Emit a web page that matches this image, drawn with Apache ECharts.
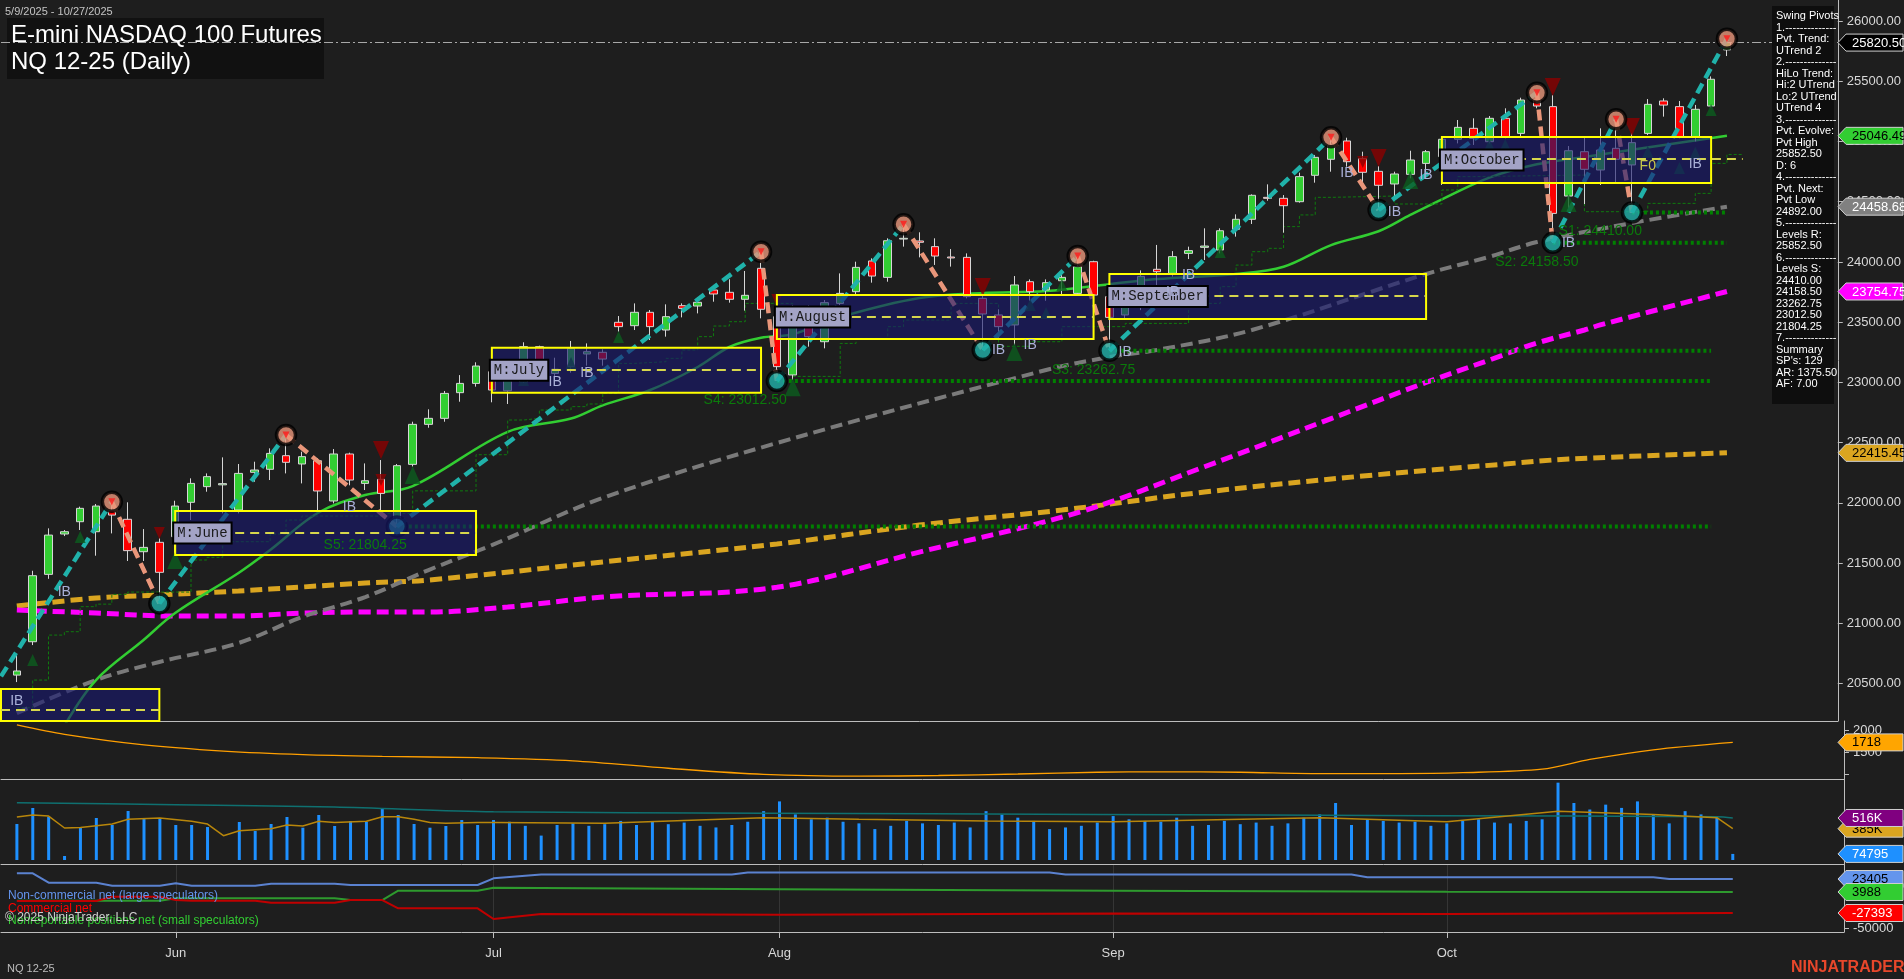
<!DOCTYPE html>
<html>
<head>
<meta charset="utf-8">
<title>E-mini NASDAQ 100 Futures NQ 12-25 (Daily)</title>
<script src="https://cdn.jsdelivr.net/npm/echarts@6.0.0/dist/echarts.min.js"></script>
<style>
html,body{margin:0;padding:0;background:#1e1e1e;overflow:hidden;}
#chart{width:1904px;height:979px;}
</style>
</head>
<body>
<div id="chart"></div>
<script>
// ---------------- trading days (categories) ----------------
const mayDays = [15,16,19,20,21,22,23,27,28,29,30];
const junDays = [2,3,4,5,6,9,10,11,12,13,16,17,18,20,23,24,25,26,27,30];
const julDays = [1,2,3,7,8,9,10,11,18,21,22,23,24,25,28,29,30,31];
const augDays = [1,4,5,6,7,8,11,12,13,14,15,18,19,20,21,22,25,26,27,28,29];
const sepDays = [2,3,4,5,8,9,10,11,12,15,16,17,18,19,22,23,24,25,26,29,30];
const octDays = [1,2,3,6,7,8,9,10,13,14,15,16,17,20,21,22,23,24,27,28,29,30,31];
const novDays = [3,4,5];
const monthLabels = {6:'Jun',7:'Jul',8:'Aug',9:'Sep',10:'Oct'};

// ---------------- daily candles: open, high, low, close (from 5/16) ----------------
const candleFirstDay = '5/16';
const ohlc = [
[20571,20746,20513,20605],[20848,21437,20820,21396],[21407,21789,21370,21733],[21742,21775,21725,21761],
[21844,21969,21775,21955],[21761,21991,21562,21974],[21935,22010,21747,21899],[21864,22005,21518,21604],
[21595,21783,21518,21631],[21673,21706,21166,21424],[21720,22018,21581,21974],[22005,22204,21858,22162],
[22135,22245,22093,22218],[22150,22378,21913,22160],[21941,22323,21913,22245],[22254,22342,22176,22273],
[22279,22453,22190,22411],[22392,22564,22245,22337],[22323,22425,22162,22384],[22350,22370,21927,22099],
[22016,22447,21996,22406],[22406,22417,22146,22190],[22162,22328,22107,22184],[22196,22356,21899,22079],
[21872,22323,21804.25,22309],[22320,22674,22301,22652],[22652,22777,22624,22702],[22702,22929,22674,22909],
[22915,23061,22840,22992],[22992,23167,22965,23136],[23089,23117,22835,22937],[22931,23117,22821,23103],
[23006,23333,22998,23297],[23297,23305,23048,23131],[23075,23205,23048,23109],[23131,23344,23081,23283],
[23236,23324,23139,23255],[23250,23275,23139,23194],[23499,23551,23421,23463],[23471,23656,23435,23582],
[23582,23601,23352,23463],[23435,23648,23380,23546],[23637,23656,23540,23615],[23634,23706,23573,23665],
[23767,23809,23670,23734],[23748,23856,23662,23690],[23690,23925,23596,23723],[23947,24085,23532,23607],
[23546,23712,23012.5,23131],[23062,23642,23020,23543],[23601,23642,23297,23380],[23338,23684,23283,23662],
[23656,23905,23642,23739],[23753,24002,23725,23955],[24008,24030,23828,23883],[23872,24196,23836,24176],
[24190,24312,24127,24196],[24174,24246,24038,24163],[24127,24196,23975,24049],[24041,24107,23961,24033],
[24038,24071,23698,23712],[23698,23739,23269,23568],[23560,23607,23352,23463],[23477,23883,23311,23809],
[23836,23855,23678,23753],[23767,23855,23678,23828],[23844,23891,23725,23872],[23739,24049,23734,23961],
[24002,24010,23700,23725],[23712,23720,23262.75,23540],[23560,23770,23530,23720],[23640,23930,23600,23880],
[23939,24141,23712,23919],[23905,24090,23878,24044],[24071,24127,24024,24094],[24121,24279,24016,24132],
[24099,24279,24071,24259],[24271,24395,24210,24354],[24354,24561,24315,24553],[24536,24644,24508,24528],
[24528,24555,24243,24467],[24500,24741,24492,24708],[24719,24888,24658,24868],[24852,25034,24749,24971],
[25004,25031,24791,24832],[24857,24915,24652,24744],[24752,24796,24431,24636],[24647,24749,24514,24730],
[24727,24923,24694,24846],[24818,24929,24722,24915],[24874,25040,24639,25018],[25018,25178,24984,25117],
[25109,25192,24971,25026],[24998,25211,24984,25192],[25192,25275,25026,25040],[25067,25363,25040,25344],
[25344,25405,25275,25294],[25289,25385,24158.5,24403],[24547,24962,24445,24923],[24915,25040,24480,24769],
[24763,25109,24639,24929],[24943,25184,24652,24852],[24805,25067,24410,24990],[25067,25352,25053,25308],
[25336,25358,25206,25302],[25289,25336,25026,25040],[25034,25303,25000,25267],[25294,25540,25283,25516],
[25760,25852.5,25709,25820.5]
];
const volume = [
442000,639000,532000,49000,405000,516000,430000,602000,516000,516000,430000,430000,405000,0,467000,356000,
442000,528000,397000,553000,418000,479000,470000,639000,553000,442000,397000,418000,491000,430000,491000,
470000,420000,300000,430000,450000,420000,440000,480000,430000,470000,440000,460000,420000,400000,430000,
470000,600000,720000,560000,500000,520000,470000,450000,380000,420000,480000,450000,430000,460000,400000,
600000,560000,520000,480000,380000,400000,420000,460000,540000,500000,480000,470000,520000,420000,430000,
480000,440000,460000,420000,450000,520000,560000,700000,430000,500000,480000,460000,470000,420000,450000,
480000,500000,460000,450000,480000,500000,950000,700000,620000,680000,640000,720000,560000,450000,600000,
560000,520000,74795
];

// ---------------- indicator lines [day, value] ----------------
const smaGreen = [['5/21',20150],['5/23',20530],['5/29',20862],['6/2',21086],['6/6',21418],['6/10',21609],['6/13',21916],['6/18',22066],['6/24',22140],['7/2',22590],['7/9',22700],['7/11',22810],['7/22',22937],['7/25',23128],['7/29',23294],['7/31',23370],['8/4',23400],['8/7',23543],['8/14',23701],['8/20',23742],['8/26',23758],['9/2',23815],['9/5',23858],['9/12',23900],['9/17',23960],['9/22',24140],['9/25',24255],['9/29',24390],['10/1',24520],['10/6',24700],['10/9',24810],['10/14',24871],['10/22',24990],['10/27',25046.49]];
const smaGray = [['5/16',20256],['5/23',20530],['5/30',20680],['6/6',20837],['6/12',21053],['6/18',21219],['6/25',21443],['7/1',21650],['7/11',22041],['8/1',22497],['8/26',23103],['9/2',23211],['9/5',23269],['9/15',23435],['9/30',23900],['10/6',24043],['10/9',24165],['10/17',24323],['10/27',24458.68]];
const smaMagenta = [['5/16',21111],['5/23',21086],['6/2',21061],['6/6',21061],['6/12',21086],['6/18',21094],['6/25',21094],['7/2',21136],['7/11',21219],['8/1',21300],['8/14',21592],['8/28',21920],['9/10',22300],['9/22',22700],['9/30',23000],['10/6',23186],['10/9',23327],['10/14',23435],['10/15',23477],['10/27',23754.75]];
const smaGold = [['5/16',21144],['5/23',21211],['5/30',21236],['6/6',21269],['6/12',21302],['6/18',21335],['6/25',21360],['7/11',21510],['8/1',21659],['8/14',21816],['8/27',21941],['9/10',22090],['9/24',22223],['10/7',22323],['10/13',22364],['10/27',22415.45]];
const trailStop = [['5/16',20300],['5/19',20530],['5/20',20903],['5/21',20931],['5/22',21139],['5/23',21160],['5/27',21241],['5/28',21260],['6/3',21526],['6/4',21548],['6/5',21678],['6/10',21742],['6/11',21858],['6/12',21891],['6/20',21913],['6/24',22100],['6/30',22400],['7/2',22688],['7/3',22702],['7/7',22771],['7/9',22799],['7/10',22821],['7/11',22909],['7/18',23158],['7/21',23172],['7/23',23200],['7/24',23269],['7/25',23380],['7/28',23468],['7/29',23504],['7/30',23656],['8/4',23050],['8/7',23324],['8/8',23366],['8/12',23463],['8/13',23518],['8/18',23656],['8/21',23300],['8/25',23338],['8/27',23463],['9/3',23490],['9/9',23656],['9/11',23795],['9/12',23974],['9/15',24085],['9/16',24113],['9/17',24293],['9/18',24390],['9/19',24536],['9/22',24547],['9/26',24481],['10/1',24597],['10/2',24708],['10/3',24721],['10/14',24417],['10/20',24486],['10/23',24569],['10/24',24818],['10/27',24892],['10/28',24892]];

// ---------------- swing pivots ----------------
const pivotDays   = ['5/15','5/27','5/30','6/11','6/23','7/31','8/1','8/13','8/20','8/28','9/2','9/22','9/25','10/9','10/10','10/16','10/17','10/27'];
const pivotPrices = [20560,22010,21166,22564,21804.25,24085,23012.5,24312,23269,24049,23262.75,25034,24431,25405,24158.5,25184,24410,25852.5];

// support levels
const sNames  = ['S1','S2','S3','S4','S5'];
const sValues = [24410.00,24158.50,23262.75,23012.50,21804.25];
const sStart  = ['10/17','10/10','9/2','8/1','6/23'];
const sEnd    = ['10/27','10/27','10/24','10/24','10/24'];
const sLabelDay = ['10/15','10/9','8/29','7/30','6/18'];

// monthly IB boxes
const boxNames  = ['','M:June','M:July','M:August','M:September','M:October'];
const boxStart  = ['5/15','6/2','7/1','8/1','9/2','10/1'];
const boxEnd    = ['5/30','6/30','7/31','8/29','9/30','10/24'];
const boxTop    = [20455,21933,23288,23726,23900,25037];
const boxBottom = [20190,21568,22915,23360,23526,24655];
const boxMid    = [20281,21753,23103,23546,23717,24854];
const boxMidEnd = ['5/30','6/30','7/31','8/29','9/30','10/28'];

// markers
const upTriDays = ['5/19','5/22','6/2','6/24','7/3','7/9','7/18','8/4','8/22','8/25','8/26','8/27','9/11','9/29','10/6','10/7','10/13','10/20','10/22','10/23','10/24'];
const upTriVals = [20696,21717,21526,22232,23020,23161,23377,22960,23253,23643,23576,23808,24082,24680,24971,24971,24489,24915,24779,24907,25261];
const upTriBig  = [0,0,1,1,0,0,0,1,1,0,0,0,0,1,0,0,1,0,0,0,0];
const dnTriDays = ['5/30','6/20','6/20','8/1','8/20','9/24','9/25','10/10','10/17'];
const dnTriVals = [21750,22439,22190,23684,23792,24829,24863,25452,25120];
const dnTriBig  = [0,1,0,0,1,0,1,1,1];
const ibDays = ['5/16','5/21','6/17','7/8','7/10','8/21','8/25','9/3','9/8','9/9','9/23','9/26','9/30','10/13','10/23'];
const ibVals = [20356,21260,21966,23003,23078,23269,23310,23252,23753,23892,24738,24414,24722,24157,24813];

// ---------------- lower panels ----------------
const rangeLine = [['5/16',2114],['5/21',1900],['5/29',1660],['6/5',1520],['6/12',1440],['6/20',1400],['6/30',1370],['7/9',1300],['7/23',1130],['7/31',990],['8/8',950],['8/15',965],['8/22',1000],['8/29',1040],['9/5',1050],['9/12',1040],['9/19',1010],['9/26',1010],['10/2',1030],['10/9',1110],['10/14',1330],['10/20',1550],['10/27',1718]];
const volAvg = [['5/16',528000],['5/19',553000],['5/20',540000],['5/21',393000],['5/22',400000],['5/27',442000],['5/28',500000],['5/30',516000],['6/3',475000],['6/4',442000],['6/5',299000],['6/6',360000],['6/10',385000],['6/11',430000],['6/12',418000],['6/13',475000],['6/16',460000],['6/18',475000],['6/20',532000],['6/23',532000],['6/24',500000],['6/25',460000],['6/26',450000],['6/30',460000],['7/1',460000],['7/11',450000],['7/31',520000],['8/8',500000],['8/20',480000],['9/2',470000],['9/19',520000],['10/1',470000],['10/10',600000],['10/20',560000],['10/24',520000],['10/27',385000]];
const openInt = [['5/16',704000],['6/2',680000],['6/16',651000],['7/1',593000],['7/31',575000],['8/29',560000],['9/30',545000],['10/24',530000],['10/27',516000]];
const cotLarge = [['5/16',31900],['5/19',31900],['5/20',17900],['5/23',17900],['5/27',13400],['5/30',13400],['6/2',17000],['6/3',13400],['6/9',13400],['6/10',16400],['6/16',16400],['6/17',14400],['6/30',14400],['7/1',24400],['7/7',30000],['7/29',30000],['7/30',33000],['8/26',33000],['8/27',30000],['9/23',30000],['9/24',26000],['10/20',26000],['10/21',23405],['10/27',23405]];
const cotSmall = [['5/16',-9000],['5/30',-9000],['6/2',-5400],['6/16',-5400],['6/17',-8000],['6/20',-8000],['6/23',5900],['6/30',5900],['7/1',10400],['8/1',8000],['9/2',6000],['10/1',4500],['10/27',3988]];
const cotComm = [['5/16',-9500],['5/23',-9500],['5/27',-3000],['5/30',-3000],['6/2',-8000],['6/3',-9000],['6/9',-9000],['6/10',-12000],['6/16',-12000],['6/17',-8000],['6/20',-8000],['6/23',-20400],['6/30',-20400],['7/1',-36400],['7/7',-29000],['8/1',-30000],['9/2',-28000],['10/1',-29000],['10/27',-27393]];

const infoLines = ['Swing Pivots','1.--------------','Pvt. Trend:','UTrend 2','2.--------------','HiLo Trend:','Hi:2 UTrend','Lo:2 UTrend','UTrend 4','3.--------------','Pvt. Evolve:','Pvt High','25852.50','D: 6','4.--------------','Pvt. Next:','Pvt Low','24892.00','5.--------------','Levels R:','25852.50','6.--------------','Levels S:','24410.00','24158.50','23262.75','23012.50','21804.25','7.--------------','Summary',"SP's: 129",'AR: 1375.50','AF: 7.00'];
const priceTicks = [20500,21000,21500,22000,22500,23000,23500,24000,24500,25000,25500,26000];

// ================= build =================
const FONT = 'Liberation Sans, Arial, sans-serif';
const categories = [];
[[5,mayDays],[6,junDays],[7,julDays],[8,augDays],[9,sepDays],[10,octDays],[11,novDays]].forEach(([m,ds]) => ds.forEach(d => categories.push(m + '/' + d)));
const monthOf = c => parseInt(c.split('/')[0], 10);
const monthStart = new Set();
categories.forEach((c,i) => { if (i > 0 && monthOf(c) !== monthOf(categories[i-1]) && monthLabels[monthOf(c)]) monthStart.add(i); });

const off = categories.indexOf(candleFirstDay);
const candleData = categories.map((c,i) => { const k = i - off; return (k >= 0 && k < ohlc.length) ? [ohlc[k][0], ohlc[k][3], ohlc[k][2], ohlc[k][1]] : '-'; });
const volData = categories.map((c,i) => { const k = i - off; return (k >= 0 && k < volume.length) ? volume[k] : '-'; });

function xAx(gi, show) {
  return {
    type: 'category', gridIndex: gi, data: categories, boundaryGap: false,
    axisLine: { show: true, onZero: false, lineStyle: { color: '#bdbdbd', width: 1 } },
    axisTick: { show: show, interval: (i) => monthStart.has(i), length: 6, lineStyle: { color: '#bdbdbd' } },
    axisLabel: { show: show, interval: (i) => monthStart.has(i), formatter: (v) => monthLabels[monthOf(v)] || '', color: '#d8d8d8', fontSize: 13, margin: 15, fontFamily: FONT },
    splitLine: { show: gi === 3, interval: (i) => monthStart.has(i), lineStyle: { color: '#353535', width: 1 } }
  };
}
function yAx(gi, min, max, labels, ticks) {
  return {
    type: 'value', gridIndex: gi, position: 'right', min: min, max: max,
    axisLine: { show: true, onZero: false, lineStyle: { color: '#bdbdbd', width: 1 } },
    axisTick: { show: ticks.length > 0, customValues: ticks, length: 5, lineStyle: { color: '#bdbdbd' } },
    axisLabel: { show: labels.length > 0, customValues: labels, formatter: (v) => gi === 0 ? v.toFixed(2) : String(v), color: '#d8d8d8', fontSize: 13, margin: 9, fontFamily: FONT },
    splitLine: { show: false }
  };
}
function lineS(data, color, width, dash, z, extra) {
  return Object.assign({ type: 'line', xAxisIndex: 0, yAxisIndex: 0, data: data, showSymbol: false, symbol: 'none', smooth: 0.35, silent: true, z: z,
    lineStyle: { color: color, width: width, type: dash || 'solid' } }, extra || {});
}
function textSeries(days, vals, texts, color, font, dx, dy, align, z) {
  return { type: 'custom', xAxisIndex: 0, yAxisIndex: 0, silent: true, z: z, clip: false,
    data: days.map((d,i) => [d, vals[i]]),
    renderItem: (params, api) => {
      const p = api.coord([api.value(0), api.value(1)]);
      return { type: 'text', x: p[0] + dx, y: p[1] + dy, style: { text: texts[params.dataIndex], fill: color, font: font, align: align, verticalAlign: 'middle' } };
    } };
}

const series = [];
// moving averages
series.push(lineS(smaGold, '#daa520', 5, [12,6], 3));
series.push(lineS(smaMagenta, '#ff00ff', 5, [12,6], 3));
series.push(lineS(smaGray, '#7a7a7a', 4, [12,6], 3));
series.push(lineS(smaGreen, '#32cd32', 2.5, 'solid', 3));
series.push(lineS(trailStop, '#0f7a0f', 1, [3,2], 3, { smooth: false, step: 'end' }));
// support levels
sValues.forEach((v,i) => series.push(lineS([[sStart[i], v], [sEnd[i], v]], '#008000', 4, [3,3], 3, { smooth: false })));
// candles
series.push({
  type: 'candlestick', xAxisIndex: 0, yAxisIndex: 0, data: candleData, barWidth: 8, z: 4, silent: true,
  itemStyle: { color: '#32cd32', color0: '#ff0000', borderColor: '#d6d6d6', borderColor0: '#d6d6d6', borderWidth: 1 },
  markLine: { silent: true, symbol: 'none', z: 4, label: { show: false },
    lineStyle: { color: '#a8a8a8', width: 1, type: [9,3,2,3] },
    data: [{ yAxis: ohlc[ohlc.length-1][3] }] }
});
// zigzag legs
for (let i = 0; i < pivotDays.length - 1; i++) {
  const up = pivotPrices[i+1] > pivotPrices[i];
  series.push(lineS([[pivotDays[i], pivotPrices[i]], [pivotDays[i+1], pivotPrices[i+1]]], up ? '#20b2aa' : '#e9967a', 4.5, [11,6], 5, { smooth: false }));
}
// pivot circles
const hiPts = [], loPts = [];
for (let i = 1; i < pivotDays.length; i++) {
  const isHigh = pivotPrices[i] > pivotPrices[i-1];
  (isHigh ? hiPts : loPts).push([pivotDays[i], pivotPrices[i]]);
}
series.push({ type: 'scatter', xAxisIndex: 0, yAxisIndex: 0, data: hiPts, symbol: 'circle', symbolSize: 19, z: 6, silent: true,
  itemStyle: { color: '#e9967a', borderColor: '#000', borderWidth: 3.5 } });
series.push({ type: 'scatter', xAxisIndex: 0, yAxisIndex: 0, data: hiPts, symbol: 'triangle', symbolRotate: 180, symbolSize: 7, z: 7, silent: true,
  itemStyle: { color: '#ff1a1a' } });
series.push({ type: 'scatter', xAxisIndex: 0, yAxisIndex: 0, data: loPts, symbol: 'circle', symbolSize: 19, z: 6, silent: true,
  itemStyle: { color: '#20b2aa', borderColor: '#000', borderWidth: 3.5 } });
// triangles
series.push({ type: 'scatter', xAxisIndex: 0, yAxisIndex: 0, silent: true, z: 5, symbol: 'triangle',
  data: upTriDays.map((d,i) => ({ value: [d, upTriVals[i]], symbolSize: upTriBig[i] ? [16,18] : [11,12] })),
  itemStyle: { color: '#0b5d1e' } });
series.push({ type: 'scatter', xAxisIndex: 0, yAxisIndex: 0, silent: true, z: 5, symbol: 'triangle', symbolRotate: 180,
  data: dnTriDays.map((d,i) => ({ value: [d, dnTriVals[i]], symbolSize: dnTriBig[i] ? [16,18] : [11,12] })),
  itemStyle: { color: '#8b0000' } });
// monthly boxes (overlay)
series.push({
  type: 'line', xAxisIndex: 0, yAxisIndex: 0, data: [], silent: true, z: 10,
  markArea: { silent: true, z: 10,
    itemStyle: { color: 'rgba(25,25,112,0.62)', borderColor: '#ffff00', borderWidth: 2 },
    data: boxNames.map((n,i) => [
      { name: n, xAxis: boxStart[i], yAxis: boxTop[i],
        label: { show: n !== '', position: 'insideLeft', distance: 0, color: '#1a1a1a', fontFamily: 'Liberation Mono, monospace', fontSize: 14,
          backgroundColor: '#a3a3c6', borderColor: '#000', borderWidth: 2, padding: [3,3,2,3] } },
      { xAxis: boxEnd[i], yAxis: boxBottom[i] }])
  },
  markLine: { silent: true, z: 10, symbol: 'none', label: { show: false },
    lineStyle: { color: '#d6d64c', width: 2, type: [9,6] },
    data: boxNames.map((n,i) => [{ xAxis: boxStart[i], yAxis: boxMid[i] }, { xAxis: boxMidEnd[i], yAxis: boxMid[i] }]) }
});
// texts
series.push(textSeries(ibDays, ibVals, ibDays.map(() => 'IB'), '#aab0d8', '14px ' + FONT, 0, 0, 'center', 12));
series.push(textSeries(['10/20'], [24796], ['F0'], '#c8c84a', '14px ' + FONT, 0, 0, 'center', 12));
series.push(textSeries(sLabelDay, sValues, sNames.map((n,i) => n + ': ' + sValues[i].toFixed(2)), '#0b7a0b', '14px ' + FONT, 0, 19, 'center', 12));

// lower panel series
series.push({ type: 'line', xAxisIndex: 1, yAxisIndex: 1, data: rangeLine, showSymbol: false, smooth: 0.3, silent: true, lineStyle: { color: '#ff9f00', width: 1.3 } });
series.push({ type: 'bar', xAxisIndex: 2, yAxisIndex: 2, data: volData, barWidth: 3, silent: true, itemStyle: { color: '#1e90ff' } });
series.push({ type: 'line', xAxisIndex: 2, yAxisIndex: 2, data: openInt, showSymbol: false, smooth: 0.3, silent: true, lineStyle: { color: '#0f7070', width: 1.5 } });
series.push({ type: 'line', xAxisIndex: 2, yAxisIndex: 2, data: volAvg, showSymbol: false, smooth: false, silent: true, lineStyle: { color: '#b8860b', width: 1.5 } });
series.push({ type: 'line', xAxisIndex: 3, yAxisIndex: 3, data: cotLarge, showSymbol: false, silent: true, lineStyle: { color: '#5b82d0', width: 2 } });
series.push({ type: 'line', xAxisIndex: 3, yAxisIndex: 3, data: cotSmall, showSymbol: false, silent: true, lineStyle: { color: '#2e9a2e', width: 2 } });
series.push({ type: 'line', xAxisIndex: 3, yAxisIndex: 3, data: cotComm, showSymbol: false, silent: true, lineStyle: { color: '#c00000', width: 2 } });

// static graphics (title, info panel, legends)
const graphic = [];
graphic.push({ type: 'text', left: 5, top: 6, z: 100, style: { text: '5/9/2025 - 10/27/2025', fill: '#c4c4c4', font: '11px ' + FONT } });
graphic.push({ type: 'rect', shape: { x: 7, y: 18, width: 317, height: 61 }, z: 0, style: { fill: '#111111' } });
graphic.push({ type: 'text', x: 11, y: 35, z: 100, style: { text: 'E-mini NASDAQ 100 Futures', fill: '#ffffff', font: '24px ' + FONT, verticalAlign: 'middle' } });
graphic.push({ type: 'text', x: 11, y: 62, z: 100, style: { text: 'NQ 12-25 (Daily)', fill: '#ffffff', font: '24px ' + FONT, verticalAlign: 'middle' } });
graphic.push({ type: 'rect', shape: { x: 1772, y: 6, width: 62, height: 398 }, z: 50, style: { fill: '#0e0e0e' } });
infoLines.forEach((t,i) => graphic.push({ type: 'text', x: 1776, y: 16 + i * 11.5, z: 51, style: { text: t, fill: '#ffffff', font: '11px ' + FONT, verticalAlign: 'middle' } }));
graphic.push({ type: 'text', x: 8, y: 896, z: 100, style: { text: 'Non-commercial net (large speculators)', fill: '#6495ed', font: '12px ' + FONT, verticalAlign: 'middle' } });
graphic.push({ type: 'text', x: 8, y: 909, z: 100, style: { text: 'Commercial net', fill: '#ff0000', font: '12px ' + FONT, verticalAlign: 'middle' } });
graphic.push({ type: 'text', x: 8, y: 921, z: 100, style: { text: 'Nonreportable positions net (small speculators)', fill: '#32cd32', font: '12px ' + FONT, verticalAlign: 'middle' } });
graphic.push({ type: 'text', x: 5, y: 918, z: 101, style: { text: '\u00a9 2025 NinjaTrader, LLC', fill: '#d0d0d0', font: '12px ' + FONT, verticalAlign: 'middle' } });
graphic.push({ type: 'text', x: 7, y: 969, z: 100, style: { text: 'NQ 12-25', fill: '#bdbdbd', font: '11px ' + FONT, verticalAlign: 'middle' } });
graphic.push({ type: 'text', x: 1791, y: 968, z: 100, style: { text: 'NINJATRADER', fill: '#e8472b', font: 'bold 16px ' + FONT, verticalAlign: 'middle' } });

const chart = echarts.init(document.getElementById('chart'), null, { renderer: 'canvas' });
chart.setOption({
  backgroundColor: '#1e1e1e',
  animation: false,
  grid: [
    { left: 1, right: 60, top: 0, height: 721 },
    { left: 1, right: 60, top: 721, height: 58 },
    { left: 1, right: 60, top: 779, height: 85 },
    { left: 1, right: 60, top: 864, height: 68 }
  ],
  xAxis: [xAx(0,false), xAx(1,false), xAx(2,false), xAx(3,true)],
  yAxis: [
    yAx(0, 20190, 26174, priceTicks, priceTicks),
    yAx(1, 886, 2204.5, [1500,2000], [1000,1500,2000]),
    yAx(2, -49000, 995000, [], []),
    yAx(3, -55777, 45815, [-50000], [-50000])
  ],
  series: series,
  graphic: graphic
});

// right-axis value tags
const lastOf = a => a[a.length-1][1];
const kfmt = v => v >= 100000 ? Math.round(v/1000) + 'K' : String(Math.round(v));
const tagDefs = [
  [0, lastOf(smaGold), lastOf(smaGold).toFixed(2), '#daa520', '#000'],
  [0, lastOf(smaMagenta), lastOf(smaMagenta).toFixed(2), '#ff00ff', '#fff'],
  [0, lastOf(smaGray), lastOf(smaGray).toFixed(2), '#808080', '#fff'],
  [0, lastOf(smaGreen), lastOf(smaGreen).toFixed(2), '#32cd32', '#000'],
  [0, ohlc[ohlc.length-1][3], ohlc[ohlc.length-1][3].toFixed(2), '#000000', '#fff'],
  [1, lastOf(rangeLine), String(Math.round(lastOf(rangeLine))), '#ffa500', '#000'],
  [2, volume[volume.length-1], kfmt(volume[volume.length-1]), '#1e90ff', '#fff'],
  [2, lastOf(volAvg), kfmt(lastOf(volAvg)), '#daa520', '#000'],
  [2, lastOf(openInt), kfmt(lastOf(openInt)), '#800080', '#fff'],
  [3, lastOf(cotComm), String(lastOf(cotComm)), '#ff0000', '#fff'],
  [3, lastOf(cotLarge), String(lastOf(cotLarge)), '#6495ed', '#000'],
  [3, lastOf(cotSmall), String(lastOf(cotSmall)), '#32cd32', '#000']
];
const tagEls = tagDefs.map(([ax, v, txt, bg, fg], i) => {
  const y = chart.convertToPixel({ yAxisIndex: ax }, v);
  return { type: 'group', z: 200 + i, children: [
    { type: 'polygon', z: 200 + i, shape: { points: [[1838, y], [1846, y - 8.5], [1903, y - 8.5], [1903, y + 8.5], [1846, y + 8.5]] },
      style: { fill: bg, stroke: '#cfcfcf', lineWidth: 1 } },
    { type: 'text', z: 201 + i, x: 1852, y: y + 0.5, style: { text: txt, fill: fg, font: '13px ' + FONT, verticalAlign: 'middle' } }
  ] };
});
chart.setOption({ graphic: graphic.concat(tagEls) });
</script>
</body>
</html>
